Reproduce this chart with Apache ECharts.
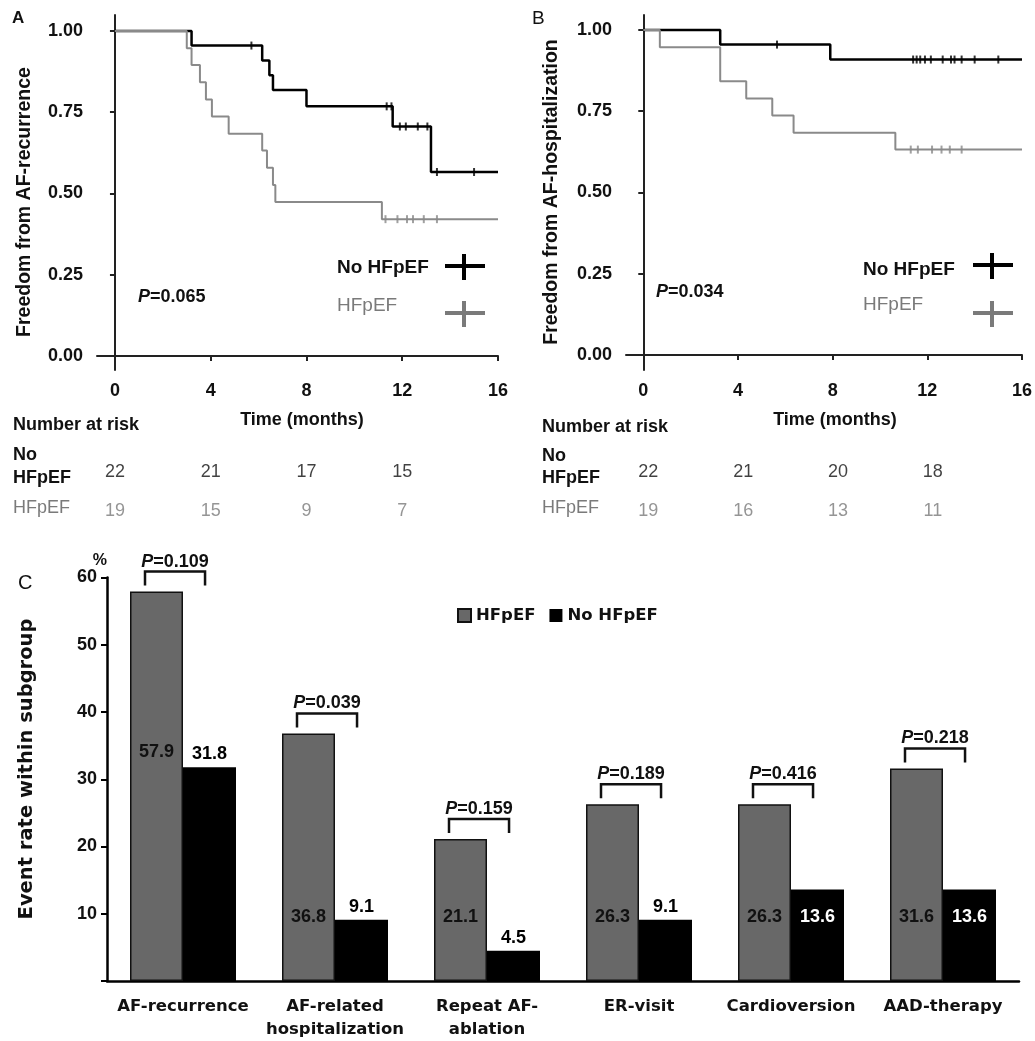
<!DOCTYPE html>
<html>
<head>
<meta charset="utf-8">
<script src="https://cdn.jsdelivr.net/npm/echarts@6/dist/echarts.min.js"></script>
<style>
html, body { margin: 0; padding: 0; background: #fff; }
#main { width: 1035px; height: 1041px; }
</style>
</head>
<body>
<div id="main"></div>
<script>
// ---- data ----
// Panel A: freedom from AF recurrence (time in months, survival)
var kmA_noHF_t = [0, 3.2, 6.15, 6.45, 6.6, 8.0, 11.6, 13.2, 16];
var kmA_noHF_s = [1.0, 0.955, 0.909, 0.864, 0.818, 0.768, 0.706, 0.566, 0.566];
var censA_noHF = [5.7, 11.35, 11.55, 11.9, 12.15, 12.65, 13.05, 13.45, 15.0];
var kmA_hf_t = [0, 3.0, 3.2, 3.55, 3.8, 4.05, 4.75, 6.15, 6.35, 6.6, 6.7, 11.15, 16];
var kmA_hf_s = [1.0, 0.947, 0.895, 0.842, 0.789, 0.737, 0.684, 0.632, 0.579, 0.526, 0.474, 0.421, 0.421];
var censA_hf = [11.3, 11.8, 12.2, 12.45, 12.9, 13.45];

// Panel B: freedom from AF hospitalization
var kmB_noHF_t = [0, 3.25, 7.9, 16];
var kmB_noHF_s = [1.0, 0.955, 0.909, 0.909];
var censB_noHF = [5.65, 11.4, 11.55, 11.7, 11.9, 12.15, 12.65, 13.0, 13.15, 13.45, 14.0, 15.0];
var kmB_hf_t = [0, 0.7, 3.25, 4.35, 5.45, 6.35, 10.65, 16];
var kmB_hf_s = [1.0, 0.947, 0.842, 0.789, 0.737, 0.684, 0.632, 0.632];
var censB_hf = [11.3, 11.6, 12.2, 12.6, 12.95, 13.45];

var kmTicksX = [0, 4, 8, 12, 16];
var kmTicksY = [0, 0.25, 0.5, 0.75, 1];

// number at risk
var riskTimes = [0, 4, 8, 12];
var riskA_noHF = [22, 21, 17, 15];
var riskA_hf = [19, 15, 9, 7];
var riskB_noHF = [22, 21, 20, 18];
var riskB_hf = [19, 16, 13, 11];
var riskRows = ['No HFpEF', 'HFpEF'];

// Panel C: event rates (%)
var categories = ['AF-recurrence', 'AF-related\nhospitalization', 'Repeat AF-\nablation', 'ER-visit', 'Cardioversion', 'AAD-therapy'];
var rateHF = [57.9, 36.8, 21.1, 26.3, 26.3, 31.6];
var rateNoHF = [31.8, 9.1, 4.5, 9.1, 13.6, 13.6];
var pValues = ['0.109', '0.039', '0.159', '0.189', '0.416', '0.218'];

// ---- styling ----
var FONT = '"Liberation Sans", Arial, sans-serif';
var WIDE = '"DejaVu Sans", Verdana, sans-serif';
var GRAY = '#7a7a7a';
var CURVE_GRAY = '#8a8a8a';
var hfLabelLift = [220, 55, 55, 55, 55, 55];

function pairs(ts, ss) {
    return ts.map(function (t, i) { return [t, ss[i]]; });
}
function survAt(ts, ss, t) {
    var s = ss[0];
    for (var i = 0; i < ts.length; i++) {
        if (ts[i] <= t) s = ss[i];
    }
    return s;
}
function censorPts(cs, ts, ss) {
    return cs.map(function (c) { return [c, survAt(ts, ss, c)]; });
}

function kmLine(name, idx, ts, ss, color, width, z) {
    return {
        name: name, type: 'line', step: 'end', xAxisIndex: idx, yAxisIndex: idx,
        data: pairs(ts, ss), symbol: 'none', z: z,
        lineStyle: { color: color, width: width }
    };
}
function kmCensor(name, idx, cs, ts, ss, color, z) {
    return {
        name: name, type: 'scatter', xAxisIndex: idx, yAxisIndex: idx,
        data: censorPts(cs, ts, ss), symbol: 'rect', symbolSize: [2, 8], z: z,
        itemStyle: { color: color }
    };
}
function riskSeries(name, idx, row, vals, color, dx) {
    return {
        name: name, type: 'scatter', xAxisIndex: idx, yAxisIndex: idx,
        symbolSize: 0,
        data: riskTimes.map(function (t, i) { return [t, row, vals[i]]; }),
        label: {
            show: true, position: 'inside', offset: [dx, 0],
            formatter: function (p) { return String(p.value[2]); },
            fontFamily: FONT, fontSize: 18, color: color
        }
    };
}

function kmXAxis(grid, min) {
    return {
        gridIndex: grid, type: 'value', min: min, max: 16,
        axisLine: { lineStyle: { color: '#222', width: 2 } },
        axisTick: { customValues: kmTicksX, length: 5, lineStyle: { color: '#222', width: 2 } },
        axisLabel: { customValues: kmTicksX, margin: 12, fontFamily: FONT, fontWeight: 'bold', fontSize: 18, color: '#111' },
        splitLine: { show: false }
    };
}
function kmYAxis(grid, min, max) {
    return {
        gridIndex: grid, type: 'value', min: min, max: max,
        axisLine: { show: true, lineStyle: { color: '#222', width: 2 } },
        axisTick: { show: true, customValues: kmTicksY, length: 5, lineStyle: { color: '#222', width: 2 } },
        axisLabel: {
            customValues: kmTicksY, margin: 14, fontFamily: FONT, fontWeight: 'bold', fontSize: 18, color: '#111',
            formatter: function (v) { return v.toFixed(2); }
        },
        splitLine: { show: false }
    };
}
function hiddenX(grid, min) {
    return { gridIndex: grid, type: 'value', min: min, max: 16, show: false };
}
function hiddenY(grid) {
    return { gridIndex: grid, type: 'category', data: riskRows, inverse: true, show: false };
}

function txt(x, y, text, opts) {
    opts = opts || {};
    return {
        type: 'text', x: x, y: y, rotation: opts.rotation || 0,
        style: {
            text: text, fill: opts.color || '#111',
            font: (opts.weight || 'bold') + ' ' + (opts.size || 18) + 'px ' + (opts.family || FONT),
            align: opts.align || 'left', verticalAlign: 'middle',
            rich: opts.rich
        }
    };
}
function cross(cx, cy, color) {
    return [
        { type: 'line', shape: { x1: cx - 19, y1: cy, x2: cx + 21, y2: cy }, style: { stroke: color, lineWidth: 4 } },
        { type: 'line', shape: { x1: cx, y1: cy - 12, x2: cx, y2: cy + 14 }, style: { stroke: color, lineWidth: 4 } }
    ];
}
var pRich = {
    i: { fontFamily: FONT, fontWeight: 'bold', fontStyle: 'italic', fontSize: 18, fill: '#111', color: '#111' },
    n: { fontFamily: FONT, fontWeight: 'bold', fontSize: 18, fill: '#111', color: '#111' }
};

// bar labels
var hfData = rateHF.map(function (v, i) {
    return {
        value: v,
        label: { show: true, position: 'insideBottom', distance: hfLabelLift[i] }
    };
});
var noHfData = rateNoHF.map(function (v, i) {
    var inside = v > 12 && i > 0;
    return {
        value: v,
        label: inside
            ? { show: true, position: 'insideTop', distance: 18, color: '#fff' }
            : { show: true, position: 'top', distance: 4, color: '#000' }
    };
});

function renderBracket(params, api) {
    var idx = api.value(0);
    var c = api.coord([idx, api.value(1)]);
    var band = api.size([1, 0])[0];
    var xl = c[0] - band * 0.25, xr = c[0] + band * 0.145;
    var yt = c[1] - 20, yb = c[1] - 6;
    return {
        type: 'group',
        children: [
            { type: 'polyline', shape: { points: [[xl, yb], [xl, yt], [xr, yt], [xr, yb]] },
              style: { stroke: '#111', lineWidth: 2.5, fill: null } },
            { type: 'text', x: (xl + xr) / 2, y: yt - 1,
              style: { text: '{i|P}{n|=' + pValues[idx] + '}', rich: pRich, align: 'center', verticalAlign: 'bottom',
                       font: 'bold 18px ' + FONT, fill: '#111' } }
        ]
    };
}

var chart = echarts.init(document.getElementById('main'), null, { renderer: 'canvas' });
var option = {
    backgroundColor: '#fff',
    animation: false,
    textStyle: { fontFamily: FONT },
    grid: [
        { left: 97, top: 15, width: 401, height: 355 },
        { left: 626, top: 15, width: 396.7, height: 355 },
        { left: 107, top: 577.5, width: 912, height: 405 },
        { left: 97, top: 453, width: 401, height: 78 },
        { left: 626, top: 453, width: 396.7, height: 78 }
    ],
    xAxis: [
        kmXAxis(0, -0.75),
        kmXAxis(1, -0.73),
        {
            gridIndex: 2, type: 'category', data: categories,
            axisLine: { lineStyle: { color: '#000', width: 2.5 } },
            axisTick: { show: false },
            axisLabel: { interval: 0, margin: 14, fontFamily: WIDE, fontWeight: 'bold', fontSize: 16.5, color: '#111', lineHeight: 23 }
        },
        hiddenX(3, -0.75),
        hiddenX(4, -0.73)
    ],
    yAxis: [
        kmYAxis(0, -0.043, 1.049),
        kmYAxis(1, -0.046, 1.046),
        {
            gridIndex: 2, type: 'value', min: 0, max: 60, interval: 10,
            name: '%', nameGap: 6,
            nameTextStyle: { fontFamily: FONT, fontWeight: 'bold', fontSize: 16, color: '#111', align: 'right' },
            axisLine: { show: true, lineStyle: { color: '#000', width: 2.5 } },
            axisTick: { show: true, length: 6, lineStyle: { color: '#000', width: 2 } },
            axisLabel: { margin: 10, fontFamily: FONT, fontWeight: 'bold', fontSize: 18, color: '#111',
                         formatter: function (v) { return v === 0 ? '' : String(v); } },
            splitLine: { show: false }
        },
        hiddenY(3),
        hiddenY(4)
    ],
    legend: {
        data: ['HFpEF', 'No HFpEF'],
        left: 452, top: 602,
        icon: 'rect', itemWidth: 13, itemHeight: 13, itemGap: 14, itemTextGap: 4,
        textStyle: { fontFamily: WIDE, fontWeight: 'bold', fontSize: 16.5, color: '#111' },
        selectedMode: false
    },
    series: [
        kmLine('A no', 0, kmA_noHF_t, kmA_noHF_s, '#000', 2.5, 2),
        kmCensor('A no c', 0, censA_noHF, kmA_noHF_t, kmA_noHF_s, '#000', 3),
        kmLine('A hf', 0, kmA_hf_t, kmA_hf_s, CURVE_GRAY, 2, 4),
        kmCensor('A hf c', 0, censA_hf, kmA_hf_t, kmA_hf_s, CURVE_GRAY, 5),
        kmLine('B no', 1, kmB_noHF_t, kmB_noHF_s, '#000', 2.5, 2),
        kmCensor('B no c', 1, censB_noHF, kmB_noHF_t, kmB_noHF_s, '#000', 3),
        kmLine('B hf', 1, kmB_hf_t, kmB_hf_s, CURVE_GRAY, 2, 4),
        kmCensor('B hf c', 1, censB_hf, kmB_hf_t, kmB_hf_s, CURVE_GRAY, 5),
        riskSeries('rA no', 3, 0, riskA_noHF, '#111', 0),
        riskSeries('rA hf', 3, 1, riskA_hf, GRAY, 0),
        riskSeries('rB no', 4, 0, riskB_noHF, '#111', 5),
        riskSeries('rB hf', 4, 1, riskB_hf, GRAY, 5),
        {
            name: 'HFpEF', type: 'bar', xAxisIndex: 2, yAxisIndex: 2,
            barWidth: 53, barGap: '0%', data: hfData,
            itemStyle: { color: '#686868', borderColor: '#111', borderWidth: 1.5 },
            label: { fontFamily: FONT, fontWeight: 'bold', fontSize: 18, color: '#111' }
        },
        {
            name: 'No HFpEF', type: 'bar', xAxisIndex: 2, yAxisIndex: 2,
            barWidth: 53, barGap: '0%', data: noHfData,
            itemStyle: { color: '#000' },
            label: { fontFamily: FONT, fontWeight: 'bold', fontSize: 18 }
        },
        {
            name: 'brackets', type: 'custom', xAxisIndex: 2, yAxisIndex: 2,
            data: rateHF.map(function (v, i) { return [i, v]; }),
            renderItem: renderBracket, clip: false, z: 5
        }
    ],
    graphic: [].concat(
        [
            txt(12, 18, 'A', { size: 17 }),
            txt(532, 19, 'B', { weight: 'normal', size: 19 }),
            txt(18, 583, 'C', { weight: 'normal', size: 20 }),
            txt(25, 202, 'Freedom from AF-recurrence', { align: 'center', rotation: Math.PI / 2, size: 19.5 }),
            txt(552, 192, 'Freedom from AF-hospitalization', { align: 'center', rotation: Math.PI / 2, size: 19.5 }),
            txt(27, 769, 'Event rate within subgroup', { align: 'center', rotation: Math.PI / 2, size: 19.5, family: WIDE }),
            txt(302, 420, 'Time (months)', { align: 'center' }),
            txt(835, 420, 'Time (months)', { align: 'center' }),
            txt(13, 425, 'Number at risk'),
            txt(542, 427, 'Number at risk'),
            txt(13, 455, 'No'), txt(13, 478, 'HFpEF'), txt(13, 508, 'HFpEF', { weight: 'normal', color: GRAY }),
            txt(542, 456, 'No'), txt(542, 478, 'HFpEF'), txt(542, 508, 'HFpEF', { weight: 'normal', color: GRAY }),
            txt(138, 297, '{i|P}{n|=0.065}', { rich: pRich }),
            txt(656, 292, '{i|P}{n|=0.034}', { rich: pRich }),
            txt(337, 268, 'No HFpEF', { size: 19 }),
            txt(337, 306, 'HFpEF', { size: 19, weight: 'normal', color: GRAY }),
            txt(863, 270, 'No HFpEF', { size: 19 }),
            txt(863, 305, 'HFpEF', { size: 19, weight: 'normal', color: GRAY })
        ],
        cross(464, 266, '#000'),
        cross(464, 313, GRAY),
        cross(992, 265, '#000'),
        cross(992, 313, GRAY)
    )
};

if (option && typeof option === 'object') {
    chart.setOption(option);
}

window.addEventListener('resize', function () {
    chart.resize();
});
</script>
</body>
</html>
